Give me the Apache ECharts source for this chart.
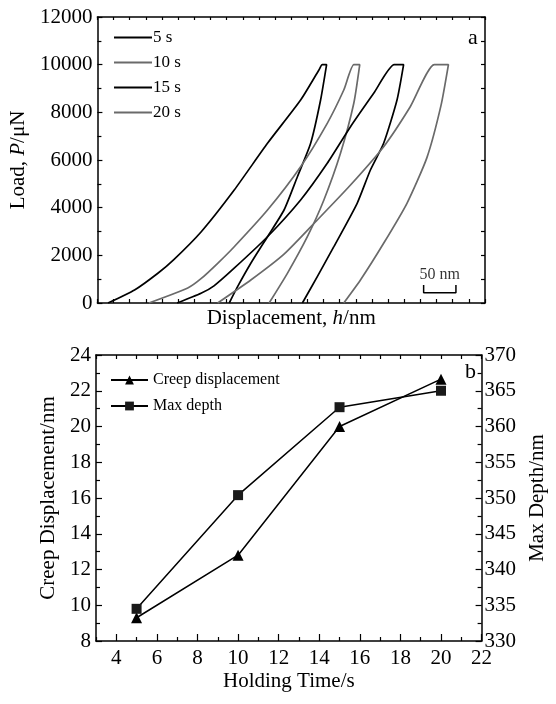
<!DOCTYPE html>
<html>
<head>
<meta charset="utf-8">
<script src="https://cdn.jsdelivr.net/npm/echarts@6/dist/echarts.min.js"></script>
<style>
html,body{margin:0;padding:0;background:#fff;}
#chart{width:556px;height:704px;}
</style>
</head>
<body>
<div id="chart"></div>
<script>
// ---------- Panel a: load-displacement curves (displacement in nm, load in μN) ----------
var disp5  = [16.5, 57.5, 94.1, 118.3, 160.4, 211.8, 263.3, 314.6, 342.9, 348.1, 354.8, 345.5, 330.1, 309.6, 288.9, 263.3, 237.5, 217.0, 204.1];
var load5  = [0, 545, 1259, 1820, 2980, 4741, 6701, 8517, 9776, 10000, 10000, 8517, 6701, 5299, 3902, 2782, 1666, 684, 0];
var disp10 = [79.7, 139.9, 160.4, 186.2, 211.8, 263.3, 314.6, 355.8, 381.4, 396.9, 406.1, 396.9, 376.3, 350.6, 325.0, 294.1, 265.8];
var load10 = [0, 630, 1020, 1666, 2362, 3902, 5719, 7540, 8937, 10000, 10000, 8379, 6281, 4322, 2782, 1246, 0];
var disp15 = [123.4, 160.4, 180.5, 211.3, 263.3, 314.6, 355.8, 391.8, 427.7, 459.5, 474.0, 463.8, 443.1, 422.6, 402.1, 366.0, 340.4, 317.3];
var load15 = [0, 407, 720, 1450, 2780, 4322, 5862, 7397, 8799, 10000, 10000, 8517, 6701, 5580, 4183, 2362, 1104, 0];
var disp20 = [186.2, 237.5, 288.9, 340.4, 391.8, 443.1, 484.3, 521.5, 543.4, 532.0, 510.1, 479.2, 443.1, 407.2, 381.4];
var load20 = [0, 965, 2050, 3483, 4950, 6558, 8236, 10000, 10000, 8300, 6100, 4183, 2505, 965, 0];
var curveNames = ['5 s', '10 s', '15 s', '20 s'];
// scale bar (50 nm)
var scaleBarX = [505, 555];
var scaleBarY = [430, 760];
var scaleBarLabel = '50 nm';
var scaleBarLabelPos = [530, 1180];

// ---------- Panel b: creep vs holding time ----------
var holdTime   = [5, 10, 15, 20];
var creepDisp  = [9.3, 12.8, 20.0, 22.65];
var maxDepth   = [334.5, 350.4, 362.7, 365.0];
var xTickLabels = [4, 6, 8, 10, 12, 14, 16, 18, 20, 22];
var xMinorTicks = [3, 5, 7, 9, 11, 13, 15, 17, 19, 21];

function pairs(xs, ys){ return xs.map(function(x,i){ return [x, ys[i]]; }); }
function plain(v){ return String(v); }

var FONT = "'Liberation Serif','Times New Roman',serif";
var BLACK = '#000000', GRAY = '#6a6a6a';

var chart = echarts.init(document.getElementById('chart'), null, {renderer:'canvas'});

function tickStyle(len){ return {show:true, inside:true, length:len, lineStyle:{color:BLACK, width:1.2}}; }
var axisLine = {show:true, onZero:false, lineStyle:{color:BLACK, width:1.5}};
function lbl(extra){ return Object.assign({color:BLACK, fontFamily:FONT, fontSize:21, formatter:plain}, extra); }

var option = {
  backgroundColor:'#ffffff',
  animation:false,
  textStyle:{fontFamily:FONT},
  grid:[
    {left:96, right:71, top:17, height:286},
    {left:96, right:71, top:355, height:286}
  ],
  legend:[
    {data:curveNames, orient:'vertical', left:113, top:29, itemWidth:38, itemHeight:14, itemGap:8, padding:0,
     itemStyle:{opacity:0},
     textStyle:{fontFamily:FONT, fontSize:17, color:BLACK, padding:[0,0,0,-4]}},
    {data:['Creep displacement','Max depth'], orient:'vertical', left:110, top:372, itemWidth:37, itemHeight:11, itemGap:10, padding:0,
     textStyle:{fontFamily:FONT, fontSize:16, color:BLACK, padding:[0,0,0,0]}}
  ],
  xAxis:[
    {gridIndex:0, type:'value', position:'bottom', min:0, max:600, interval:25,
     axisLine:axisLine, axisTick:tickStyle(4), axisLabel:{show:false}, splitLine:{show:false},
     name:'{n|Displacement, }{i|h}{n|/nm}', nameLocation:'middle', nameGap:5,
     nameTextStyle:{rich:{n:{fontFamily:FONT, fontSize:21, color:BLACK}, i:{fontFamily:FONT, fontSize:21, fontStyle:'italic', color:BLACK}}}},
    {gridIndex:0, type:'value', position:'top', min:0, max:600, interval:25,
     axisLine:axisLine, axisTick:tickStyle(3), axisLabel:{show:false}, splitLine:{show:false}},
    {gridIndex:1, type:'value', position:'bottom', min:3, max:22,
     axisLine:axisLine, axisTick:{show:true, inside:true, length:7, customValues:xTickLabels, lineStyle:{color:BLACK,width:1.2}},
     axisLabel:lbl({customValues:xTickLabels, margin:7}), splitLine:{show:false},
     name:'Holding Time/s', nameLocation:'middle', nameGap:30,
     nameTextStyle:{fontFamily:FONT, fontSize:21, color:BLACK}},
    {gridIndex:1, type:'value', position:'bottom', min:3, max:22,
     axisLine:{show:false}, axisTick:{show:true, inside:true, length:4, customValues:xMinorTicks, lineStyle:{color:BLACK,width:1.2}},
     axisLabel:{show:false, customValues:xMinorTicks}, splitLine:{show:false}},
    {gridIndex:1, type:'value', position:'top', min:3, max:22,
     axisLine:axisLine, axisTick:{show:true, inside:true, length:4, customValues:xTickLabels.concat(xMinorTicks), lineStyle:{color:BLACK,width:1.2}},
     axisLabel:{show:false, customValues:xTickLabels}, splitLine:{show:false}}
  ],
  yAxis:[
    {gridIndex:0, type:'value', position:'left', min:0, max:12000, interval:2000,
     axisLine:axisLine, axisTick:tickStyle(5), minorTick:{show:true, splitNumber:2, length:4, lineStyle:{color:BLACK,width:1.2}},
     axisLabel:lbl({margin:5}), splitLine:{show:false}, minorSplitLine:{show:false},
     name:'{n|Load, }{i|P}{n|/μN}', nameLocation:'middle', nameGap:44, nameRotate:90,
     nameTextStyle:{rich:{n:{fontFamily:FONT, fontSize:21, color:BLACK}, i:{fontFamily:FONT, fontSize:21, fontStyle:'italic', color:BLACK}}}},
    {gridIndex:0, type:'value', position:'right', min:0, max:12000, interval:1000,
     axisLine:axisLine, axisTick:tickStyle(4), axisLabel:{show:false}, splitLine:{show:false}},
    {gridIndex:1, type:'value', position:'left', min:8, max:24, interval:2,
     axisLine:axisLine, axisTick:tickStyle(6), minorTick:{show:true, splitNumber:2, length:4, lineStyle:{color:BLACK,width:1.2}},
     axisLabel:lbl({margin:5}), splitLine:{show:false}, minorSplitLine:{show:false},
     name:'Creep Displacement/nm', nameLocation:'middle', nameGap:32, nameRotate:90,
     nameTextStyle:{fontFamily:FONT, fontSize:21, color:BLACK}},
    {gridIndex:1, type:'value', position:'right', min:330, max:370, interval:5,
     axisLine:axisLine, axisTick:tickStyle(6), minorTick:{show:true, splitNumber:2, length:4, lineStyle:{color:BLACK,width:1.2}},
     axisLabel:lbl({margin:3}), splitLine:{show:false}, minorSplitLine:{show:false},
     name:'Max Depth/nm', nameLocation:'middle', nameGap:42, nameRotate:90,
     nameTextStyle:{fontFamily:FONT, fontSize:21, color:BLACK}}
  ],
  graphic:[
    {type:'text', left:468, top:27, style:{text:'a', font:'22px ' + FONT, fill:BLACK}},
    {type:'text', left:465, top:361, style:{text:'b', font:'22px ' + FONT, fill:BLACK}}
  ],
  series:[
    {name:curveNames[0], type:'line', xAxisIndex:0, yAxisIndex:0, data:pairs(disp5, load5), symbol:'none', smooth:0.2,
     lineStyle:{color:BLACK, width:1.7}, itemStyle:{color:BLACK}},
    {name:curveNames[1], type:'line', xAxisIndex:0, yAxisIndex:0, data:pairs(disp10, load10), symbol:'none', smooth:0.2,
     lineStyle:{color:GRAY, width:1.7}, itemStyle:{color:GRAY}},
    {name:curveNames[2], type:'line', xAxisIndex:0, yAxisIndex:0, data:pairs(disp15, load15), symbol:'none', smooth:0.2,
     lineStyle:{color:BLACK, width:1.7}, itemStyle:{color:BLACK}},
    {name:curveNames[3], type:'line', xAxisIndex:0, yAxisIndex:0, data:pairs(disp20, load20), symbol:'none', smooth:0.2,
     lineStyle:{color:GRAY, width:1.7}, itemStyle:{color:GRAY}},
    {name:'scalebar', type:'line', xAxisIndex:0, yAxisIndex:0, silent:true, symbol:'none',
     data:[[scaleBarX[0], scaleBarY[1]], [scaleBarX[0], scaleBarY[0]], [scaleBarX[1], scaleBarY[0]], [scaleBarX[1], scaleBarY[1]]],
     lineStyle:{color:BLACK, width:1.5}},
    {name:'scalebarLabel', type:'scatter', xAxisIndex:0, yAxisIndex:0, silent:true, symbolSize:1,
     itemStyle:{color:'rgba(0,0,0,0)'}, data:[scaleBarLabelPos],
     label:{show:true, position:'inside', formatter:scaleBarLabel, fontFamily:FONT, fontSize:16, color:BLACK}},
    {name:'Creep displacement', type:'line', xAxisIndex:2, yAxisIndex:2, data:pairs(holdTime, creepDisp),
     symbol:'triangle', symbolSize:11, lineStyle:{color:BLACK, width:1.5}, itemStyle:{color:BLACK}},
    {name:'Max depth', type:'line', xAxisIndex:2, yAxisIndex:3, data:pairs(holdTime, maxDepth),
     symbol:'rect', symbolSize:10, lineStyle:{color:BLACK, width:1.5}, itemStyle:{color:'#1a1a1a'}}
  ]
};
chart.setOption(option);
</script>
</body>
</html>
